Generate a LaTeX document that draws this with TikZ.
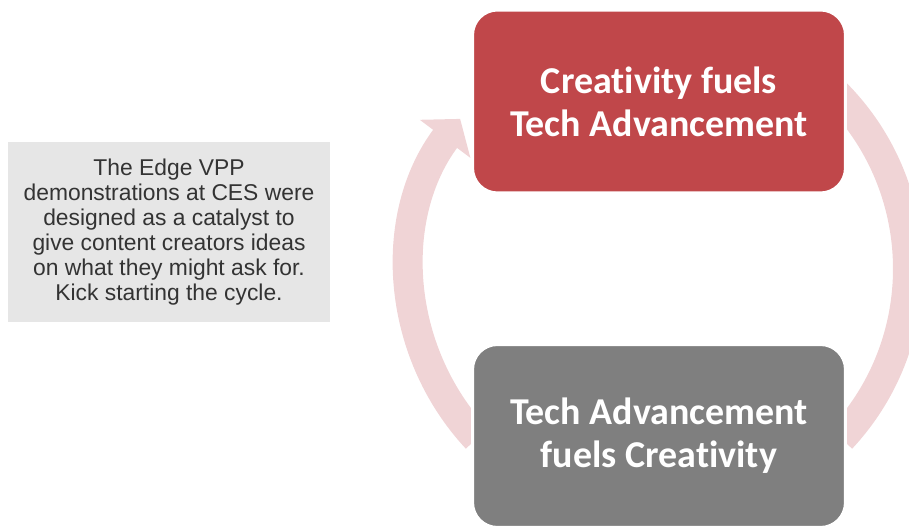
\documentclass[tikz,border=0pt]{standalone}
\usepackage{fontspec}
\usepackage{tikz}
\usetikzlibrary{arrows.meta,positioning,calc}
\newfontfamily\boxfont[Ligatures=NoCommon]{Carlito}
\newfontfamily\notefont{Liberation Sans}
\definecolor{boxred}{HTML}{C0474A}
\definecolor{boxgray}{HTML}{7F7F7F}
\definecolor{ringpink}{HTML}{F0D4D6}
\definecolor{notegray}{HTML}{E6E6E6}
\definecolor{notetext}{HTML}{333333}

\begin{document}
\begin{tikzpicture}[x=0.02cm, y=0.02cm,
  cyclebox/.style={rounded corners=0.5cm, draw=white, line width=0.06cm, minimum width=7.46cm, minimum height=3.66cm, align=center, text=white, font=\boxfont\bfseries\fontsize{21.6}{24.4}\selectfont},
  ring/.style={ringpink, line width=0.6cm},
  notebox/.style={fill=notegray, minimum width=6.44cm, minimum height=3.6cm, align=center, text=notetext, font=\notefont\fontsize{13}{14.2}\selectfont}]
  \useasboundingbox (0,0) rectangle (909,527);

  \coordinate (ctr) at (659,258.25);

  % cycle ring
  \draw[ring] ([shift={(46:249)}]ctr) arc[start angle=46, end angle=-43, radius=249];
  \draw[ring, -{Triangle[length=0.5cm, width=1.24cm]}] ([shift={(223:249)}]ctr) arc[start angle=223, end angle=143, radius=249];

  \node[cyclebox, fill=boxred] (fuel) at (659,425.5) {Creativity fuels\\Tech Advancement};
  \node[cyclebox, fill=boxgray] (adv) at (659,91) {Tech Advancement\\fuels Creativity};

  \node[notebox] (note) at (169,295) {The Edge VPP\\demonstrations at CES were\\designed as a catalyst to\\give content creators ideas\\on what they might ask for.\\Kick starting the cycle.};
\end{tikzpicture}
\end{document}
